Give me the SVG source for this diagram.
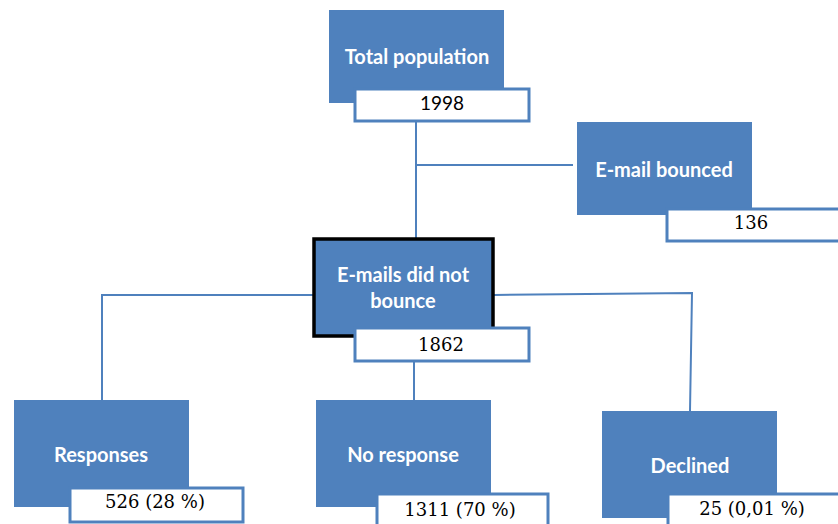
<svg xmlns="http://www.w3.org/2000/svg" width="838" height="524" viewBox="0 0 838 524">
<style>
.blue{fill:#4F81BD;}
.val{fill:#FFFFFF;stroke:#4F81BD;stroke-width:3;}
.lbl{font-family:Lato,"Open Sans",sans-serif;font-weight:bold;font-size:20px;fill:#FFFFFF;text-anchor:middle;}
.num{font-family:"DejaVu Serif","Liberation Serif",serif;font-size:18px;fill:#000000;text-anchor:middle;}
.nums{font-family:Lato,"Liberation Sans",sans-serif;font-size:19px;fill:#000000;text-anchor:middle;}
.con{fill:none;stroke:#4F81BD;stroke-width:2;}
</style>
<g id="connectors">
<path class="con" d="M416 121 V238"/>
<path class="con" d="M416 165 H573"/>
<path class="con" d="M313 295 H102 V400"/>
<path class="con" d="M494 295 L692 293 L690 411"/>
<path class="con" d="M414 362 V400"/>
</g>
<g id="total">
<rect class="blue" x="329" y="10" width="175" height="93"/>
<text class="lbl" x="417" y="64">Total population</text>
<rect class="val" x="355" y="89" width="174" height="32"/>
<text class="nums" x="442" y="110">1998</text>
</g>
<g id="bounced">
<rect class="blue" x="577" y="122" width="175" height="93"/>
<text class="lbl" x="664" y="177">E-mail bounced</text>
<rect class="val" x="667" y="209" width="175" height="32"/>
<text class="num" x="751" y="229">136</text>
</g>
<g id="notbounce">
<rect class="blue" x="314" y="239" width="179" height="97" stroke="#000000" stroke-width="3.5"/>
<text class="lbl" x="403" y="282">E-mails did not</text>
<text class="lbl" x="403" y="308">bounce</text>
<rect class="val" x="355" y="328" width="174" height="33"/>
<text class="num" x="441" y="351">1862</text>
</g>
<g id="responses">
<rect class="blue" x="14" y="400" width="175" height="107"/>
<text class="lbl" x="101" y="462">Responses</text>
<rect class="val" x="70" y="488" width="173" height="34"/>
<text class="num" x="155" y="508">526 (28 %)</text>
</g>
<g id="noresponse">
<rect class="blue" x="316" y="400" width="175" height="107"/>
<text class="lbl" x="403" y="462">No response</text>
<rect class="val" x="377" y="494" width="171" height="34"/>
<text class="num" x="460" y="516">1311 (70 %)</text>
</g>
<g id="declined">
<rect class="blue" x="602" y="411" width="175" height="107"/>
<text class="lbl" x="690" y="473">Declined</text>
<rect class="val" x="668" y="494" width="175" height="34"/>
<text class="num" x="752" y="515">25 (0,01 %)</text>
</g>
</svg>
